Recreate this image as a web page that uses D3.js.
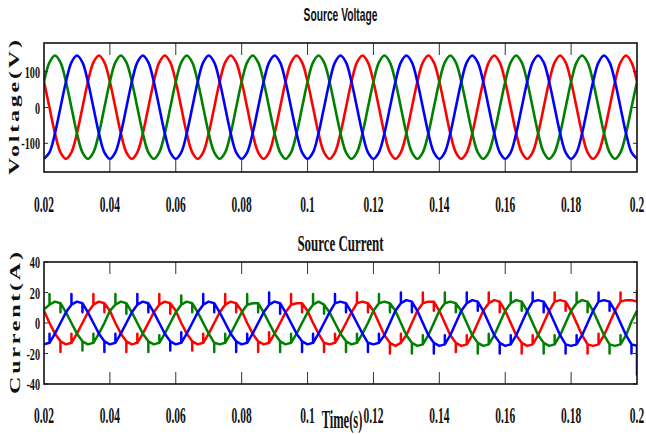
<!DOCTYPE html>
<html>
<head>
<meta charset="utf-8">
<script src="https://cdn.jsdelivr.net/npm/d3@7"></script>
<style>
  body { margin: 0; background: #fff; }
  text { font-family: "Liberation Serif", "Times New Roman", serif; font-weight: bold; fill: #111; }
</style>
</head>
<body>
<script>
// sample instants (s), one every 1/12 of the 50 Hz period
var sampleTimes = [
  0.02, 0.02167, 0.02333, 0.025, 0.02667, 0.02833, 0.03, 0.03167, 0.03333, 0.035, 0.03667, 0.03833,
  0.04, 0.04167, 0.04333, 0.045, 0.04667, 0.04833, 0.05, 0.05167, 0.05333, 0.055, 0.05667, 0.05833,
  0.06, 0.06167, 0.06333, 0.065, 0.06667, 0.06833, 0.07, 0.07167, 0.07333, 0.075, 0.07667, 0.07833,
  0.08, 0.08167, 0.08333, 0.085, 0.08667, 0.08833, 0.09, 0.09167, 0.09333, 0.095, 0.09667, 0.09833,
  0.1, 0.10167, 0.10333, 0.105, 0.10667, 0.10833, 0.11, 0.11167, 0.11333, 0.115, 0.11667, 0.11833,
  0.12, 0.12167, 0.12333, 0.125, 0.12667, 0.12833, 0.13, 0.13167, 0.13333, 0.135, 0.13667, 0.13833,
  0.14, 0.14167, 0.14333, 0.145, 0.14667, 0.14833, 0.15, 0.15167, 0.15333, 0.155, 0.15667, 0.15833,
  0.16, 0.16167, 0.16333, 0.165, 0.16667, 0.16833, 0.17, 0.17167, 0.17333, 0.175, 0.17667, 0.17833,
  0.18, 0.18167, 0.18333, 0.185, 0.18667, 0.18833, 0.19, 0.19167, 0.19333, 0.195, 0.19667, 0.19833,
  0.2
];

// source voltage (V), three phases
var voltRed = [
  72, 0, -72, -125, -143, -125, -72, 0, 72, 126, 145, 126,
  72, 0, -72, -125, -143, -125, -72, 0, 72, 126, 145, 126,
  72, 0, -72, -125, -143, -125, -72, 0, 72, 126, 145, 126,
  72, 0, -72, -125, -143, -125, -72, 0, 72, 126, 145, 126,
  72, 0, -72, -125, -143, -125, -72, 0, 72, 126, 145, 126,
  72, 0, -72, -125, -143, -125, -72, 0, 72, 126, 145, 126,
  72, 0, -72, -125, -143, -125, -72, 0, 72, 126, 145, 126,
  72, 0, -72, -125, -143, -125, -72, 0, 72, 126, 145, 126,
  72, 0, -72, -125, -143, -125, -72, 0, 72, 126, 145, 126,
  72
];
var voltGreen = [
  72, 126, 145, 126, 72, 0, -72, -125, -143, -125, -72, 0,
  72, 126, 145, 126, 72, 0, -72, -125, -143, -125, -72, 0,
  72, 126, 145, 126, 72, 0, -72, -125, -143, -125, -72, 0,
  72, 126, 145, 126, 72, 0, -72, -125, -143, -125, -72, 0,
  72, 126, 145, 126, 72, 0, -72, -125, -143, -125, -72, 0,
  72, 126, 145, 126, 72, 0, -72, -125, -143, -125, -72, 0,
  72, 126, 145, 126, 72, 0, -72, -125, -143, -125, -72, 0,
  72, 126, 145, 126, 72, 0, -72, -125, -143, -125, -72, 0,
  72, 126, 145, 126, 72, 0, -72, -125, -143, -125, -72, 0,
  72
];
var voltBlue = [
  -143, -125, -72, 0, 72, 126, 145, 126, 72, 0, -72, -125,
  -143, -125, -72, 0, 72, 126, 145, 126, 72, 0, -72, -125,
  -143, -125, -72, 0, 72, 126, 145, 126, 72, 0, -72, -125,
  -143, -125, -72, 0, 72, 126, 145, 126, 72, 0, -72, -125,
  -143, -125, -72, 0, 72, 126, 145, 126, 72, 0, -72, -125,
  -143, -125, -72, 0, 72, 126, 145, 126, 72, 0, -72, -125,
  -143, -125, -72, 0, 72, 126, 145, 126, 72, 0, -72, -125,
  -143, -125, -72, 0, 72, 126, 145, 126, 72, 0, -72, -125,
  -143, -125, -72, 0, 72, 126, 145, 126, 72, 0, -72, -125,
  -143
];

// source current (A); [level, spikeTip] marks a switching spike at that instant
var currRed = [
  8, 0, -7, [-12, -19], -14, [-13, -7], -7, 0, 7, [12, 19], 14, [13, 7],
  8, 0, -7, [-12, -19], -14, [-13, -7], -7, 0, 7, [12, 19], 14, [13, 6],
  8, 0, -7, [-12, -18], -14, [-13, -7], -7, 0, 7, [12, 19], 14, [13, 7],
  8, 0, -7, [-12, -19], -14, [-13, -6], -7, 0, 7, [12, 19], 13, [13, 7],
  8, 0, -7, [-13, -19], -14, [-13, -7], -7, 0, 7, [13, 20], 14, [13, 7],
  8, 0, -8, [-13, -20], -15, [-13, -7], -8, 0, 8, [13, 20], 14, [14, 8],
  8, 0, -8, [-13, -19], -15, [-14, -8], -8, 0, 8, [13, 20], 15, [14, 7],
  8, 0, -8, [-13, -20], -15, [-14, -8], -8, 0, 8, [14, 20], 15, [14, 8],
  8, 0, -8, [-14, -20], -15, [-14, -7], -8, 0, 8, [14, 20], 15, 15,
  [14, 21]
];
var currGreen = [
  9, [12, 19], 14, [13, 7], 7, 0, -7, [-12, -18], -14, [-13, -7], -7, 0,
  8, [12, 19], 14, [13, 6], 7, 0, -7, [-12, -19], -14, [-13, -8], -7, 0,
  7, [12, 18], 14, [13, 7], 7, 0, -7, [-13, -19], -14, [-13, -7], -7, 0,
  7, [12, 19], 13, [13, 7], 7, 0, -7, [-12, -19], -14, [-13, -7], -7, 0,
  7, [12, 19], 14, [12, 6], 7, 0, -7, [-12, -19], -14, [-13, -7], -7, 0,
  8, [13, 19], 14, [13, 7], 8, 0, -8, [-13, -20], -15, [-14, -8], -8, 0,
  8, [13, 20], 14, [13, 7], 8, 0, -8, [-13, -20], -15, [-14, -7], -8, 0,
  8, [13, 20], 15, [14, 8], 8, 0, -8, [-13, -20], -15, [-14, -8], -8, 0,
  8, [13, 20], 15, [14, 7], 8, 0, -8, [-14, -20], -15, [-14, -8], -8, 1,
  8
];
var currBlue = [
  -14, [-13, -7], -7, 0, 7, [12, 19], 14, [13, 7], 7, 0, -7, [-12, -19],
  -14, [-13, -7], -7, 0, 7, [12, 19], 14, [13, 7], 7, 0, -7, [-12, -18],
  -14, [-13, -6], -7, 0, 7, [12, 19], 14, [13, 7], 7, 0, -7, [-12, -19],
  -14, [-13, -7], -7, 0, 7, [12, 20], 14, [13, 6], 7, 0, -7, [-12, -19],
  -14, [-13, -7], -7, 0, 7, [13, 19], 14, [13, 7], 7, 0, -7, [-13, -19],
  -14, [-13, -7], -8, 0, 8, [13, 20], 15, [14, 7], 8, 0, -8, [-13, -20],
  -15, [-14, -8], -8, 0, 8, [13, 20], 15, [14, 8], 8, 0, -8, [-13, -20],
  -15, [-14, -8], -8, 0, 8, [14, 20], 15, [14, 7], 8, 0, -8, [-14, -20],
  -15, [-14, -8], -8, 0, 8, [14, 20], 15, [14, 8], 8, 0, -8, [-14, -20],
  [-15, -34]
];

var xTicks = [0.02, 0.04, 0.06, 0.08, 0.1, 0.12, 0.14, 0.16, 0.18, 0.2];
var xTickLabels = ["0.02", "0.04", "0.06", "0.08", "0.1", "0.12", "0.14", "0.16", "0.18", "0.2"];
var voltTicks = [-100, 0, 100];
var currTicks = [-40, -20, 0, 20, 40];
var phaseColors = ["#ff0000", "#008000", "#0000ff"];

var width = 646, height = 434;
var left = 44, right = 637;

var svg = d3.select("body").append("svg")
    .attr("width", width)
    .attr("height", height);

var x = d3.scaleLinear().domain([0.02, 0.2]).range([left, right]);

// the figure is squeezed sideways, so every label gets a horizontal scale
function label(g, px, py, str, size, sx, anchor, rotate) {
  return g.append("text")
    .attr("transform", "translate(" + px + "," + py + ") scale(" + sx + ",1)" + (rotate ? " rotate(-90)" : ""))
    .attr("text-anchor", anchor || "middle")
    .style("font-size", size + "px")
    .text(str);
}

function toPoints(values) {
  var pts = [];
  values.forEach(function(v, i) {
    var t = sampleTimes[i];
    if (Array.isArray(v)) {
      pts.push([t, v[0]], [t, v[1]], [t, v[0]]);
    } else {
      pts.push([t, v]);
    }
  });
  return pts;
}

var panels = [
  { id: "volt", title: "Source Voltage", sansTitle: true, titleY: 21, ylabel: "Voltage(V)",
    top: 43, bottom: 172, domain: [-180, 180], ticks: voltTicks,
    series: [voltRed, voltGreen, voltBlue], curve: d3.curveCatmullRom, lw: 2.6,
    xLabelY: 212, ylabelX: 19, ylabelLen: 135 },
  { id: "curr", title: "Source Current", sansTitle: false, titleY: 251, ylabel: "Current(A)",
    top: 262, bottom: 384, domain: [-40, 40], ticks: currTicks,
    series: [currRed, currGreen, currBlue], curve: d3.curveLinear, lw: 2.5,
    xLabelY: 423, ylabelX: 20, ylabelLen: 142 }
];

panels.forEach(function(p) {
  var y = d3.scaleLinear().domain(p.domain).range([p.bottom, p.top]);
  var g = svg.append("g");

  g.append("clipPath").attr("id", "clip-" + p.id)
    .append("rect")
      .attr("x", left).attr("y", p.top)
      .attr("width", right - left).attr("height", p.bottom - p.top);

  var line = d3.line()
    .x(function(d) { return x(d[0]); })
    .y(function(d) { return y(d[1]); })
    .curve(p.curve);

  g.append("g").attr("clip-path", "url(#clip-" + p.id + ")")
    .selectAll("path")
    .data(p.series)
    .enter().append("path")
      .attr("d", function(d) { return line(toPoints(d)); })
      .attr("fill", "none")
      .attr("stroke", function(d, i) { return phaseColors[i]; })
      .attr("stroke-width", p.lw)
      .attr("stroke-linejoin", "round");

  // inner ticks on all four sides
  var inner = xTicks.slice(1, -1);
  g.selectAll("line.xt-top").data(inner).enter().append("line")
    .attr("x1", x).attr("x2", x)
    .attr("y1", p.top).attr("y2", p.top + 12)
    .attr("stroke", "#333").attr("stroke-width", 1);
  g.selectAll("line.xt-bot").data(inner).enter().append("line")
    .attr("x1", x).attr("x2", x)
    .attr("y1", p.bottom).attr("y2", p.bottom - 12)
    .attr("stroke", "#333").attr("stroke-width", 1);
  g.selectAll("line.yt-left").data(p.ticks).enter().append("line")
    .attr("x1", left).attr("x2", left + 4)
    .attr("y1", y).attr("y2", y)
    .attr("stroke", "#333").attr("stroke-width", 1);
  g.selectAll("line.yt-right").data(p.ticks).enter().append("line")
    .attr("x1", right).attr("x2", right - 4)
    .attr("y1", y).attr("y2", y)
    .attr("stroke", "#333").attr("stroke-width", 1);

  g.append("rect")
    .attr("x", left).attr("y", p.top)
    .attr("width", right - left).attr("height", p.bottom - p.top)
    .attr("fill", "none").attr("stroke", "#111").attr("stroke-width", 1.6);

  xTicks.forEach(function(t, i) {
    label(g, x(t), p.xLabelY, xTickLabels[i], 23, 0.5);
  });
  p.ticks.forEach(function(v) {
    label(g, 40, y(v) + 6, String(v), 17, 0.6, "end");
  });

  var title = label(g, (left + right) / 2, p.titleY, p.title, p.sansTitle ? 18 : 24, p.sansTitle ? 0.57 : 0.54);
  if (p.sansTitle) title.style("font-family", "'Liberation Sans', Arial, sans-serif");

  label(g, p.ylabelX, (p.top + p.bottom) / 2, p.ylabel, 24, 0.6, "middle", true)
    .attr("textLength", p.ylabelLen)
    .attr("lengthAdjust", "spacing");
});

label(svg, 342, 428, "Time(s)", 25, 0.5);
</script>
</body>
</html>
